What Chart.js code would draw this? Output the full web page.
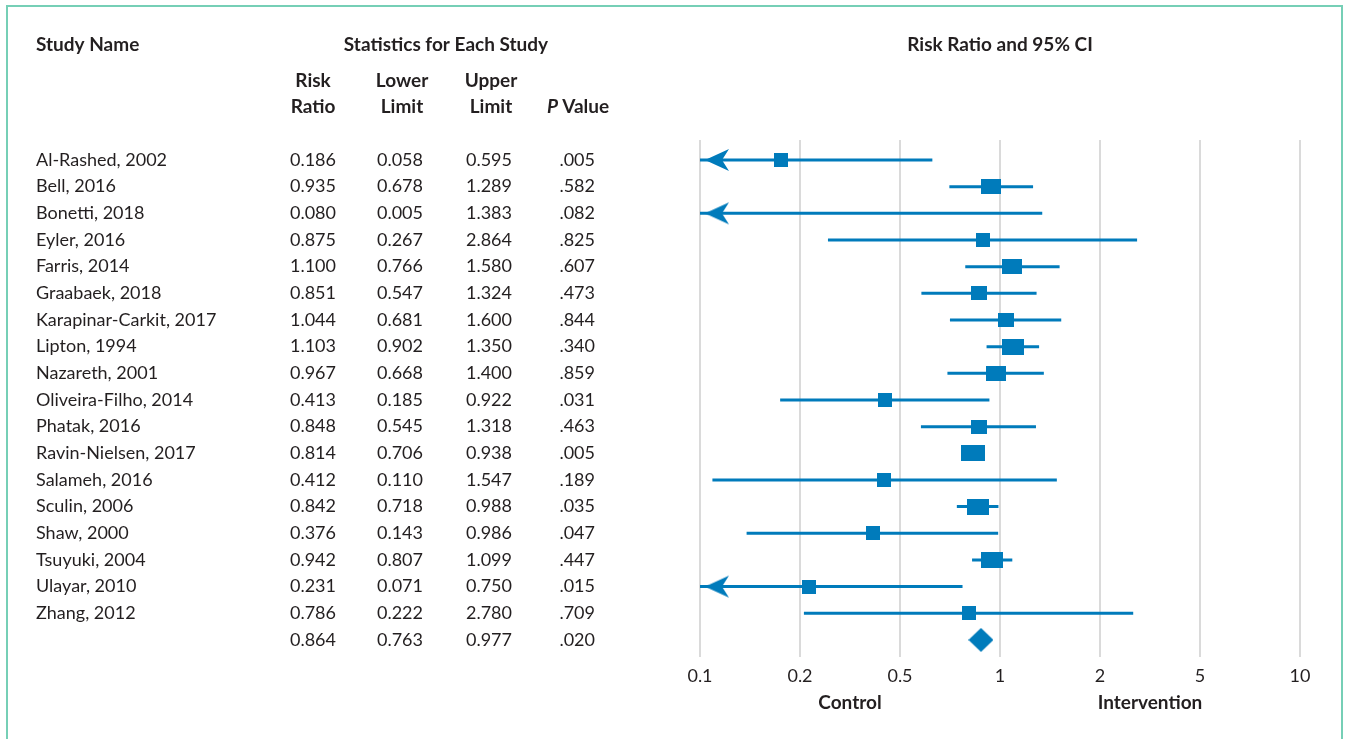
<!DOCTYPE html>
<html>
<head>
<meta charset="utf-8">
<script src="https://cdn.jsdelivr.net/npm/chart.js@4"></script>
<style>
    html, body { margin: 0; padding: 0; background: #fff; overflow: hidden; }
    #wrap { position: relative; width: 1346px; height: 739px; }
    #frame { position: absolute; left: 6px; top: 5px; width: 1333px; height: 760px; border: 2px solid #76cfb6; }
    #forest { position: absolute; left: 0; top: 0; }
</style>
</head>
<body>
<div id="wrap">
    <div id="frame"></div>
    <canvas id="forest" width="1346" height="739"></canvas>
</div>
<script>
// ===== Forest plot: Risk Ratio and 95% CI =====
const studies = [
    'Al-Rashed, 2002', 'Bell, 2016', 'Bonetti, 2018', 'Eyler, 2016', 'Farris, 2014',
    'Graabaek, 2018', 'Karapinar-Carkit, 2017', 'Lipton, 1994', 'Nazareth, 2001',
    'Oliveira-Filho, 2014', 'Phatak, 2016', 'Ravin-Nielsen, 2017', 'Salameh, 2016',
    'Sculin, 2006', 'Shaw, 2000', 'Tsuyuki, 2004', 'Ulayar, 2010', 'Zhang, 2012'
];
const riskRatio  = [0.186, 0.935, 0.080, 0.875, 1.100, 0.851, 1.044, 1.103, 0.967, 0.413, 0.848, 0.814, 0.412, 0.842, 0.376, 0.942, 0.231, 0.786];
const lowerLimit = [0.058, 0.678, 0.005, 0.267, 0.766, 0.547, 0.681, 0.902, 0.668, 0.185, 0.545, 0.706, 0.110, 0.718, 0.143, 0.807, 0.071, 0.222];
const upperLimit = [0.595, 1.289, 1.383, 2.864, 1.580, 1.324, 1.600, 1.350, 1.400, 0.922, 1.318, 0.938, 1.547, 0.988, 0.986, 1.099, 0.750, 2.780];
const pValue     = [0.005, 0.582, 0.082, 0.825, 0.607, 0.473, 0.844, 0.340, 0.859, 0.031, 0.463, 0.005, 0.189, 0.035, 0.047, 0.447, 0.015, 0.709];
// relative study weight (drives box size)
const boxWeight  = [1, 2.4, 1, 1, 2.4, 1.5, 1.5, 3, 2.4, 1, 1.5, 3.5, 1, 3, 1, 3, 1, 1];

const pooledRR = 0.864;
const pooledLower = 0.763;
const pooledUpper = 0.977;
const pooledP = 0.020;

const xTickLabels = ['0.1', '0.2', '0.5', '1', '2', '5', '10'];
const X_MIN = 0.1;
const X_MAX = 10;

// CI line is not drawn for this study in the source figure
const noWhisker = ['Ravin-Nielsen, 2017'];

const BLUE = '#007bbb';
const INK = '#231f20';
const FONT = 'Lato, "Open Sans", sans-serif';

const fmt3 = v => v.toFixed(3);
const fmtP = v => v.toFixed(3).replace(/^0/, '');

function makeBox(w, h) {
    const c = document.createElement('canvas');
    c.width = w; c.height = h;
    const g = c.getContext('2d');
    g.fillStyle = BLUE;
    g.fillRect(0, 0, w, h);
    return c;
}

function makeDiamond(w, h) {
    const c = document.createElement('canvas');
    c.width = w; c.height = h;
    const g = c.getContext('2d');
    g.fillStyle = BLUE;
    g.beginPath();
    g.moveTo(0, h / 2); g.lineTo(w / 2, 0); g.lineTo(w, h / 2); g.lineTo(w / 2, h);
    g.closePath(); g.fill();
    return c;
}

// arrow pointing left, image centred on the axis minimum so the tip sits just inside
function makeArrow() {
    const c = document.createElement('canvas');
    c.width = 62; c.height = 24;
    const g = c.getContext('2d');
    g.fillStyle = BLUE;
    g.beginPath();
    g.moveTo(36, 12); g.lineTo(60, 1); g.lineTo(53, 12); g.lineTo(60, 23);
    g.closePath(); g.fill();
    return c;
}

const boxImages = boxWeight.map(w => {
    const bw = Math.round(10 + 4 * w);
    const bh = Math.round(Math.min(16, 10 + bw * 0.25));
    return makeBox(bw, bh);
});

// whisker segments, broken by null points
const whiskerData = [];
studies.forEach((s, i) => {
    if (noWhisker.includes(s)) return;
    whiskerData.push({ x: Math.max(lowerLimit[i], X_MIN), y: i });
    whiskerData.push({ x: upperLimit[i], y: i });
    whiskerData.push({ x: upperLimit[i], y: null });
});

const pointData = riskRatio.map((rr, i) => ({ x: rr, y: i }));
const arrowData = lowerLimit.map((lo, i) => lo < X_MIN ? { x: X_MIN, y: i } : null).filter(Boolean);
const pooledRow = studies.length;

const tablePlugin = {
    id: 'tablePlugin',
    afterDraw(chart) {
        const ctx = chart.ctx;
        const yS = chart.scales.y;
        const xS = chart.scales.x;
        ctx.save();
        ctx.fillStyle = INK;
        ctx.textBaseline = 'middle';

        // headers
        ctx.font = 'bold 19px ' + FONT;
        ctx.textAlign = 'left';
        ctx.fillText('Study Name', 36, 45);
        ctx.textAlign = 'center';
        ctx.fillText('Statistics for Each Study', 446, 45);
        ctx.fillText('Risk Ratio and 95% CI', 1000, 45);
        ctx.fillText('Risk', 313, 81);
        ctx.fillText('Ratio', 313, 107);
        ctx.fillText('Lower', 402, 81);
        ctx.fillText('Limit', 402, 107);
        ctx.fillText('Upper', 491, 81);
        ctx.fillText('Limit', 491, 107);
        ctx.textAlign = 'left';
        ctx.font = 'italic bold 19px ' + FONT;
        ctx.fillText('P', 547, 107);
        const pw = ctx.measureText('P ').width;
        ctx.font = 'bold 19px ' + FONT;
        ctx.fillText('Value', 547 + pw, 107);

        // rows
        ctx.font = '18px ' + FONT;
        const rows = studies.map((s, i) => [s, riskRatio[i], lowerLimit[i], upperLimit[i], pValue[i]]);
        rows.push(['', pooledRR, pooledLower, pooledUpper, pooledP]);
        rows.forEach((r, i) => {
            const y = yS.getPixelForValue(i);
            ctx.textAlign = 'left';
            ctx.fillText(r[0], 36, y);
            ctx.textAlign = 'right';
            ctx.fillText(fmt3(r[1]), 336, y);
            ctx.fillText(fmt3(r[2]), 423, y);
            ctx.fillText(fmt3(r[3]), 512, y);
            ctx.fillText(fmtP(r[4]), 595, y);
        });

        // favours labels under the axis
        ctx.font = 'bold 19px ' + FONT;
        ctx.textAlign = 'center';
        const t = xS.ticks.map(tk => xS.getPixelForValue(tk.value));
        ctx.fillText('Control', (t[1] + t[2]) / 2, 703);
        ctx.fillText('Intervention', (t[4] + t[5]) / 2, 703);
        ctx.restore();
    }
};

new Chart(document.getElementById('forest'), {
    type: 'line',
    data: {
        datasets: [
            {
                label: 'CI',
                data: whiskerData,
                borderColor: BLUE,
                borderWidth: 3,
                pointRadius: 0,
                spanGaps: false,
                fill: false,
                order: 3
            },
            {
                label: 'Arrow',
                data: arrowData,
                showLine: false,
                pointStyle: makeArrow(),
                order: 2
            },
            {
                label: 'Risk Ratio',
                data: pointData,
                showLine: false,
                pointStyle: boxImages,
                order: 1
            },
            {
                label: 'Pooled',
                data: [{ x: pooledRR, y: pooledRow }],
                showLine: false,
                pointStyle: makeDiamond(25, 24),
                order: 0
            }
        ]
    },
    options: {
        responsive: false,
        animation: false,
        events: [],
        layout: { padding: { left: 700, right: 46, top: 140, bottom: 0 } },
        plugins: {
            legend: { display: false },
            tooltip: { enabled: false }
        },
        scales: {
            x: {
                type: 'logarithmic',
                min: X_MIN,
                max: X_MAX,
                afterBuildTicks(scale) {
                    // labels sit at equal spacing across the two decades
                    scale.ticks = xTickLabels.map((l, i) => ({ value: Math.pow(10, -1 + (2 * i) / (xTickLabels.length - 1)) }));
                },
                afterFit(scale) { scale.height = 82; },
                border: { display: false },
                grid: { color: '#dadada', lineWidth: 2, drawTicks: false },
                ticks: {
                    padding: 8,
                    color: INK,
                    font: { family: FONT, size: 18 },
                    maxRotation: 0,
                    autoSkip: false,
                    callback: (v, i) => xTickLabels[i]
                }
            },
            y: {
                type: 'linear',
                reverse: true,
                min: -0.75,
                max: 18.64,
                display: false
            }
        }
    },
    plugins: [tablePlugin]
});
</script>
</body>
</html>
